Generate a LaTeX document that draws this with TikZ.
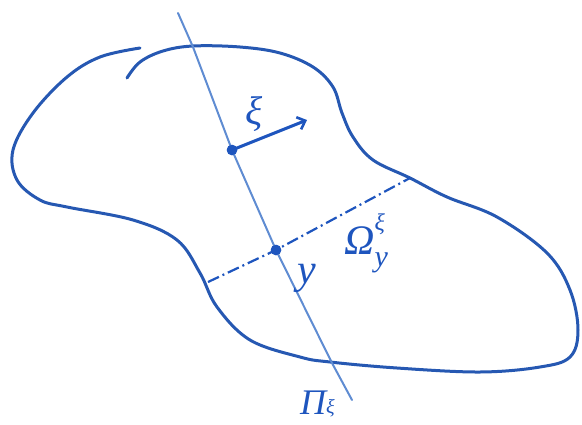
\documentclass[tikz,border=0pt]{standalone}
\usepackage{fontspec}
\setmainfont{Liberation Serif}
\usetikzlibrary{arrows.meta}
\definecolor{outline}{RGB}{38,88,178}
\definecolor{planec}{RGB}{95,140,210}
\definecolor{ink}{RGB}{30,85,190}
\tikzset{
  blob/.style={draw=outline, line width=3pt, line cap=round, line join=round},
  planeline/.style={draw=planec, line width=2pt, line cap=round},
  dot/.style={circle, fill=ink, inner sep=0pt, minimum size=10.5pt},
  cut/.style={draw=ink, line width=2.2pt, dash pattern=on 12pt off 4pt on 2pt off 4pt},
  vecarrow/.style={draw=ink, line width=3pt, line cap=round, -{Straight Barb[length=7pt,width=13pt,line width=2.6pt]}},
  lab/.style={text=ink, inner sep=0pt},
}
\newcommand{\subsup}[3]{#1\raisebox{-0.3em}{\makebox[0pt][l]{\fontsize{30}{34}\selectfont #2}}\raisebox{0.55em}{\fontsize{24}{28}\selectfont #3}}
\begin{document}
\begin{tikzpicture}[x=1pt,y=-1pt]
\useasboundingbox (0,0) rectangle (582,424);
% outline of the domain
\draw[blob] plot[smooth, tension=0.6] coordinates {
 (140,48) (100,57) (67,77) (33,113) (13,150) (17,180) (40,200) (67,207)
 (133,220) (177,240) (200,273) (217,307) (250,340) (300,357) (330,362)
 (397,368) (480,372) (540,367) (570,357) (578,330) (570,290) (547,253)
 (497,217) (447,197) (410,178) (373,160) (353,137) (342,113) (333,87)
 (313,67) (280,53) (240,47) (193,46) (163,51) (140,62) (127,78)};
% points
\coordinate (ptop) at (178,13);
\coordinate (pbot) at (352,400);
\node[dot] (xi) at (232,150) {};
\node[dot] (y) at (276,250) {};
\coordinate (cl) at (208,282);
\coordinate (cr) at (410,178);
\coordinate (tip) at (307,120);
% plane line
\draw[planeline] (ptop) -- (193,47) -- (xi.center) -- (y.center) -- (332,363) -- (pbot);
% cut
\draw[cut] (cl) -- (y.center) -- (cr);
% vector
\draw[vecarrow] (xi.center) -- (tip);
\node[dot] at (xi) {};
\node[dot] at (y) {};
% labels
\node[lab, font=\fontsize{40}{44}\selectfont\itshape] (lxi) at (254,114) {ξ};
\node[lab, font=\fontsize{42}{46}\selectfont\itshape] (ly) at (307,278) {y};
\node[lab, font=\fontsize{42}{46}\selectfont\itshape, anchor=base west] (lom) at (344,254) {\subsup{Ω}{y}{ξ}};
\node[lab, font=\fontsize{36}{42}\selectfont\itshape, anchor=base west] (lpi) at (300,414) {Π\raisebox{0.02em}{\fontsize{20}{24}\selectfont ξ}};
\end{tikzpicture}
\end{document}
